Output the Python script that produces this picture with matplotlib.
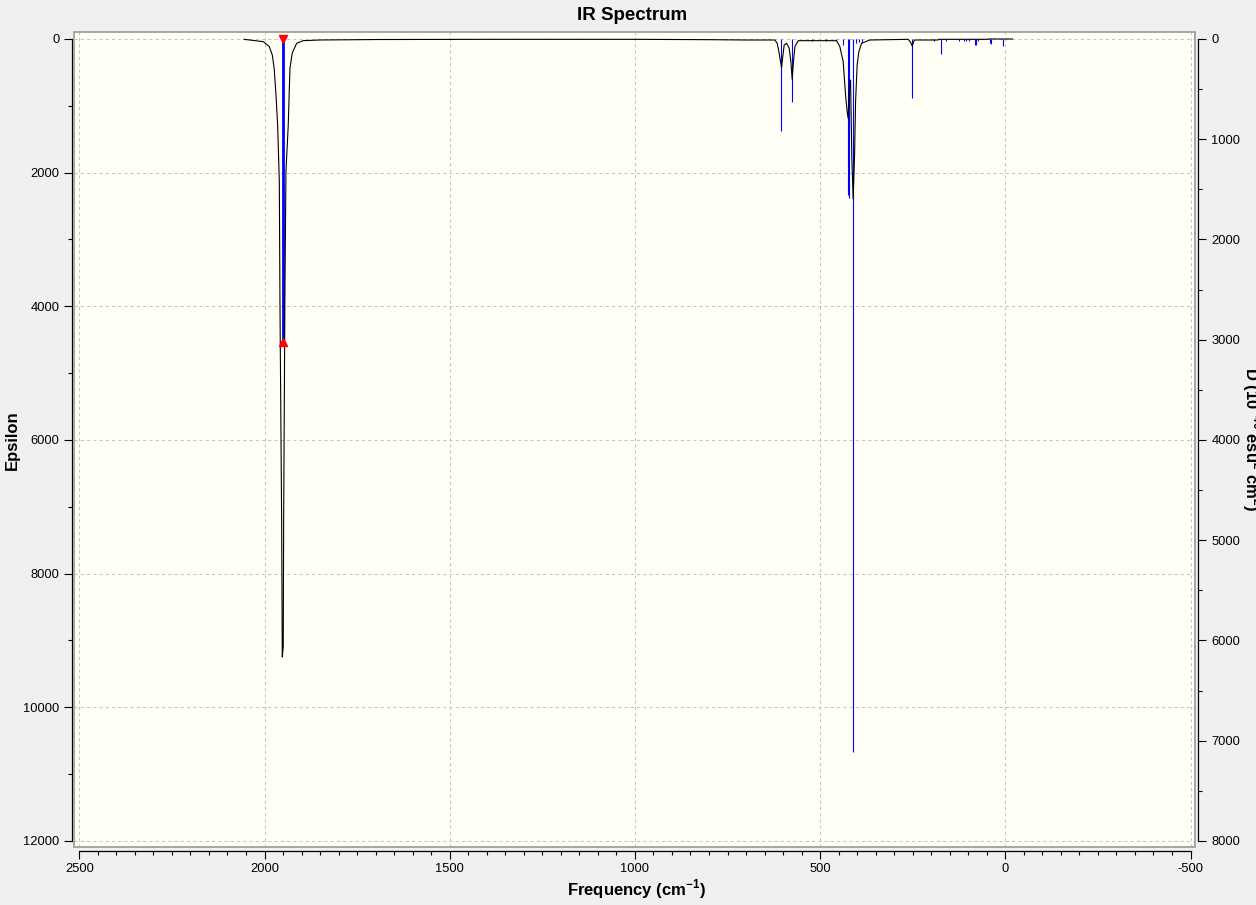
import matplotlib
matplotlib.use("Agg")
import matplotlib.pyplot as plt
from matplotlib.patches import Rectangle
from matplotlib.ticker import MultipleLocator

plt.rcParams["font.family"] = ["Liberation Sans", "DejaVu Sans"]
plt.rcParams["mathtext.fontset"] = "custom"
plt.rcParams["mathtext.rm"] = "Liberation Sans"
plt.rcParams["mathtext.bf"] = "Liberation Sans:bold"
plt.rcParams["axes.unicode_minus"] = False

# broadened spectrum (left axis, epsilon)
spec_freq = [2055, 2003, 1987, 1979, 1974, 1969, 1964.5, 1960, 1958.3, 1953.7,
             1952.0, 1949.4, 1948.3, 1944.8, 1942.1, 1935.9, 1931.3, 1925.1,
             1913.2, 1895.4, 1850, 1700, 1400, 1000, 800, 700, 650,
             622.1, 615.9, 611.3, 606.8, 604.1, 601.4, 597.0, 590.5, 583.5,
             578.9, 575.4, 572.7, 568.1, 559.2, 455.6, 446.7, 437.7, 431.3,
             427.0, 424.3, 421.6, 417.8, 414.3, 410.8, 407.0, 404.3, 400.0,
             395.4, 388.2, 365.8, 262.3, 255.8, 251.5, 246.9, 244.3, 181.4,
             179.5, 48.0, 47.2, -19.5]
spec_eps = [5, 40, 115, 239, 434, 838, 1287, 2135, 3931, 7223,
            9247, 9093, 7197, 3726, 1986, 1287, 438, 209,
            64, 25, 15, 8, 5, 5, 10, 15, 15,
            15, 64, 190, 340, 429, 289, 90, 64, 139,
            340, 603, 389, 115, 25, 25, 115, 340, 838,
            1088, 1187, 789, 614, 1785, 2394, 1736, 938, 389,
            190, 64, 15, 5, 49, 105, 30, 15, 15,
            5, 5, 0, 0]

# stick intensities (right axis, D in 10^-40 esu^2 cm^2)
stick_freq = [1950, 605, 575, 523, 483, 456, 438, 426, 423, 411, 404, 396, 388,
              251.5, 192, 173, 161, 125, 112, 105, 98, 82, 79, 74, 41, 39, 6]
stick_d = [3025, 915, 625, 15, 15, 20, 60, 1560, 1583, 7110, 40, 30, 40,
           592, 15, 147, 15, 15, 15, 15, 20, 55, 55, 20, 40, 45, 67]
selected_freq = 1950
selected_d = 3025

W, H = 1256, 905
fig = plt.figure(figsize=(W / 100, H / 100), dpi=100, facecolor="#f0f0f0")
# plot box in pixels: x 74.3..1195, y 32.3..846.7
ax = fig.add_axes([74.3 / W, 1 - 846.7 / H, (1195 - 74.3) / W, (846.7 - 32.3) / H])
ax2 = ax.twinx()
ax.set_zorder(ax2.get_zorder() + 1)
ax.patch.set_visible(False)
ax2.patch.set_visible(True)
ax2.patch.set_facecolor("#fffff6")

ax.set_xlim(2513.5, -512.1)
ax.set_ylim(12085.3, -100.2)
ax2.set_ylim(8056.9, -66.8)

grid_kw = dict(color="#c4c4c4", lw=0.75, linestyle=(0, (3, 3)))
ax.set_axisbelow(True)
ax.grid(True, which="major", **grid_kw)

ax.vlines(stick_freq, 0, stick_d, colors="#0000ff", lw=0.8, zorder=2,
          transform=ax2.transData)
ax.vlines([selected_freq], 0, [selected_d], colors="#0000ff", lw=2.0, zorder=2,
          transform=ax2.transData)
ax.plot(spec_freq, spec_eps, color="black", lw=0.8, zorder=3)
ax.plot([selected_freq], [0], marker="v", color="#ff0000", ms=6, zorder=4,
        transform=ax2.transData, clip_on=False)
ax.plot([selected_freq], [selected_d], marker="^", color="#ff0000", ms=6, zorder=4,
        transform=ax2.transData, clip_on=False)

ax.add_patch(Rectangle((0, 0), 1, 1, transform=ax.transAxes, fill=False,
                       ec="#a0a0a0", lw=1.3, clip_on=False, zorder=6))

# axes lines offset from the plot box
for s in ["top", "right"]:
    ax.spines[s].set_visible(False)
for s in ["top", "left", "bottom"]:
    ax2.spines[s].set_visible(False)
ax.spines["left"].set_position(("outward", 1.9))
ax.spines["left"].set_bounds(0, 12000)
ax.spines["bottom"].set_position(("outward", 2.9))
ax.spines["bottom"].set_bounds(2500, -500)
ax2.spines["right"].set_position(("outward", 2.4))
ax2.spines["right"].set_bounds(0, 8000)
for sp in [ax.spines["left"], ax.spines["bottom"], ax2.spines["right"]]:
    sp.set_linewidth(0.9)
    sp.set_color("black")

ax.xaxis.set_major_locator(MultipleLocator(500))
ax.xaxis.set_minor_locator(MultipleLocator(50))
ax.yaxis.set_major_locator(MultipleLocator(2000))
ax.yaxis.set_minor_locator(MultipleLocator(1000))
ax2.yaxis.set_major_locator(MultipleLocator(1000))
ax2.yaxis.set_minor_locator(MultipleLocator(500))

for a in (ax, ax2):
    a.tick_params(which="major", length=5.8, width=0.8, labelsize=9.3, pad=3)
    a.tick_params(which="minor", length=2.9, width=0.8)
ax.tick_params(axis="y", pad=2.8)
ax2.tick_params(axis="y", pad=3.5)

fig.text(632 / W, 1 - 15 / H, "IR Spectrum", ha="center", va="center",
         fontsize=13.5, fontweight="bold")
fig.text(636 / W, 1 - 889 / H, r"Frequency (cm$^{\mathbf{-1}}$)", ha="center",
         va="center", fontsize=12, fontweight="bold")
fig.text(12 / W, 1 - 440 / H, "Epsilon", ha="center", va="center", rotation=90,
         fontsize=12, fontweight="bold")
fig.text(1251.5 / W, 1 - 439 / H,
         r"D (10$^{\mathbf{-40}}$ esu$^{\mathbf{2}}$ cm$^{\mathbf{2}}$)",
         ha="center", va="center", rotation=270, fontsize=12, fontweight="bold")

fig.savefig("out.png", dpi=100, facecolor=fig.get_facecolor())
